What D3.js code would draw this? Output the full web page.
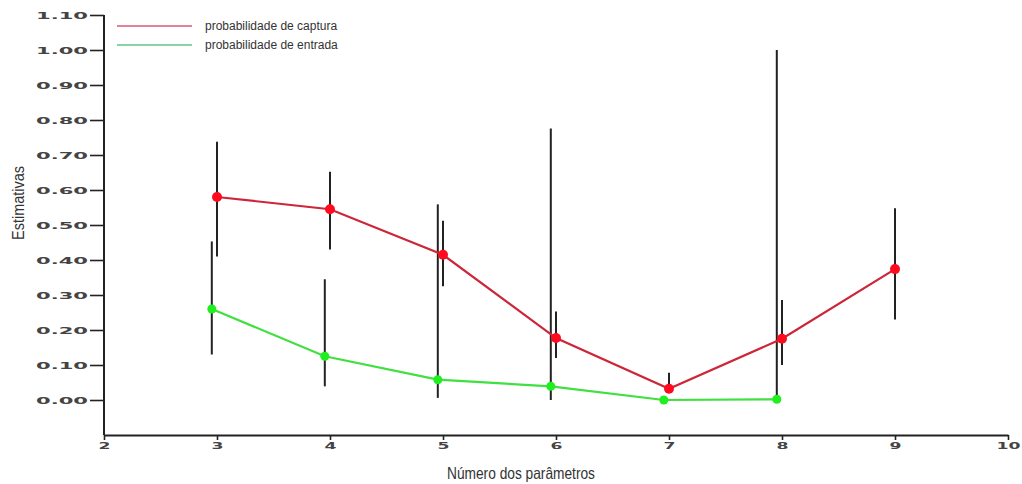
<!DOCTYPE html>
<html>
<head>
<meta charset="utf-8">
<script src="https://cdn.jsdelivr.net/npm/d3@7"></script>
<style>
    body { margin: 0; background: #fff; }
    svg { display: block; }
</style>
</head>
<body>
<div id="chart"></div>
<script>
// Number of parameters per model
const params = [3, 4, 5, 6, 7, 8, 9];
const entradaParams = [3, 4, 5, 6, 7, 8];

// probabilidade de captura: estimate and confidence limits
const capturaEst = [0.58, 0.545, 0.415, 0.177, 0.032, 0.175, 0.374];
const capturaLow = [0.41, 0.43, 0.325, 0.12, 0.021, 0.10, 0.23];
const capturaHigh = [0.738, 0.652, 0.512, 0.253, 0.078, 0.286, 0.548];

// probabilidade de entrada: estimate and confidence limits (none for 7)
const entradaEst = [0.26, 0.125, 0.058, 0.039, 0.0, 0.002];
const entradaLow = [0.13, 0.039, 0.006, 0.0, null, 0.004];
const entradaHigh = [0.453, 0.345, 0.559, 0.776, null, 1.0];

const xTicks = [2, 3, 4, 5, 6, 7, 8, 9, 10];
const yTicks = [0, 0.1, 0.2, 0.3, 0.4, 0.5, 0.6, 0.7, 0.8, 0.9, 1.0, 1.1];

const legendLabels = ["probabilidade de captura", "probabilidade de entrada"];

class EstimatesChart {
    constructor() {
        this.width = 1022;
        this.height = 484;

        this.svg = d3.select("#chart")
            .append("svg")
            .attr("width", this.width)
            .attr("height", this.height);

        this.x = d3.scaleLinear().domain([2, 10]).range([104, 1008]);
        this.y = d3.scaleLinear().domain([-0.1, 1.1]).range([435, 15]);
    }

    draw() {
        this.drawAxes();

        const captura = params.map((p, i) => ({
            x: p, est: capturaEst[i], low: capturaLow[i], high: capturaHigh[i]
        }));
        // entrada points sit a little left of the tick
        const entrada = entradaParams.map((p, i) => ({
            x: p - 0.046, est: entradaEst[i], low: entradaLow[i], high: entradaHigh[i]
        }));

        this.drawErrorBars(entrada);
        this.drawErrorBars(captura);
        this.drawSeries(captura, "#cc2638", "#ff0a1e", 5);
        this.drawSeries(entrada, "#3fe03f", "#1fee1f", 4.5);
        this.drawLegend();
    }

    drawAxes() {
        const x = this.x, y = this.y;

        // y axis
        const yAxis = this.svg.append("g")
            .attr("transform", `translate(${x(2)},0)`)
            .call(d3.axisLeft(y).tickValues(yTicks).tickFormat(d3.format(".2f"))
                .tickSize(14).tickPadding(2).tickSizeOuter(0));
        yAxis.select(".domain").attr("d", `M0,${y(1.1)}V${y(-0.1)}`)
            .attr("stroke", "#222").attr("stroke-width", 2);
        yAxis.selectAll(".tick line").attr("stroke", "#222").attr("stroke-width", 1.6);
        yAxis.selectAll(".tick text")
            .attr("font-family", "DejaVu Sans, sans-serif")
            .attr("font-size", 9.5)
            .attr("font-weight", "bold")
            .attr("fill", "#444")
            .attr("textLength", 52)
            .attr("lengthAdjust", "spacingAndGlyphs");

        // x axis
        const xAxis = this.svg.append("g")
            .attr("transform", `translate(0,${y(-0.1)})`)
            .call(d3.axisBottom(x).tickValues(xTicks).tickFormat(d3.format("d"))
                .tickSize(5).tickPadding(2).tickSizeOuter(0));
        xAxis.select(".domain").attr("stroke", "#222").attr("stroke-width", 2);
        xAxis.selectAll(".tick line").attr("stroke", "#222").attr("stroke-width", 1.6);
        xAxis.selectAll(".tick text")
            .attr("font-family", "DejaVu Sans, sans-serif")
            .attr("font-size", 9.5)
            .attr("font-weight", "bold")
            .attr("fill", "#444")
            .attr("textLength", d => String(d).length * 12)
            .attr("lengthAdjust", "spacingAndGlyphs");

        // axis titles
        this.svg.append("text")
            .attr("x", 521)
            .attr("y", 479)
            .attr("text-anchor", "middle")
            .attr("font-family", "Liberation Sans Narrow, Liberation Sans, Arial, sans-serif")
            .attr("font-size", 16.5)
            .attr("fill", "#333")
            .attr("textLength", 148)
            .attr("lengthAdjust", "spacingAndGlyphs")
            .text("Número dos parâmetros");

        this.svg.append("text")
            .attr("transform", "translate(24,203) rotate(-90)")
            .attr("text-anchor", "middle")
            .attr("font-family", "Liberation Sans Narrow, Liberation Sans, Arial, sans-serif")
            .attr("font-size", 16.5)
            .attr("fill", "#333")
            .attr("textLength", 74)
            .attr("lengthAdjust", "spacingAndGlyphs")
            .text("Estimativas");
    }

    drawErrorBars(data) {
        this.svg.append("g")
            .selectAll("line")
            .data(data.filter(d => d.low !== null))
            .enter()
            .append("line")
            .attr("x1", d => this.x(d.x))
            .attr("x2", d => this.x(d.x))
            .attr("y1", d => this.y(d.high))
            .attr("y2", d => this.y(d.low))
            .attr("stroke", "#222")
            .attr("stroke-width", 2);
    }

    drawSeries(data, lineColor, pointColor, r) {
        const line = d3.line()
            .x(d => this.x(d.x))
            .y(d => this.y(d.est));

        this.svg.append("path")
            .datum(data)
            .attr("d", line)
            .attr("fill", "none")
            .attr("stroke", lineColor)
            .attr("stroke-width", 2.2);

        this.svg.append("g")
            .selectAll("circle")
            .data(data)
            .enter()
            .append("circle")
            .attr("cx", d => this.x(d.x))
            .attr("cy", d => this.y(d.est))
            .attr("r", r)
            .attr("fill", pointColor);
    }

    drawLegend() {
        const colors = ["#d35a76", "#62c684"];
        const legend = this.svg.append("g")
            .selectAll("g")
            .data(legendLabels)
            .enter()
            .append("g")
            .attr("transform", (_, i) => `translate(117, ${26 + i * 19})`);

        legend.append("line")
            .attr("x1", 0)
            .attr("x2", 75)
            .attr("stroke", (_, i) => colors[i])
            .attr("stroke-width", 1.5);

        legend.append("text")
            .attr("x", 88)
            .attr("y", 4)
            .attr("font-family", "Liberation Sans, Arial, sans-serif")
            .attr("font-size", 12)
            .attr("fill", "#333")
            .text(d => d);
    }
}

const chart = new EstimatesChart();
chart.draw();
</script>
</body>
</html>
